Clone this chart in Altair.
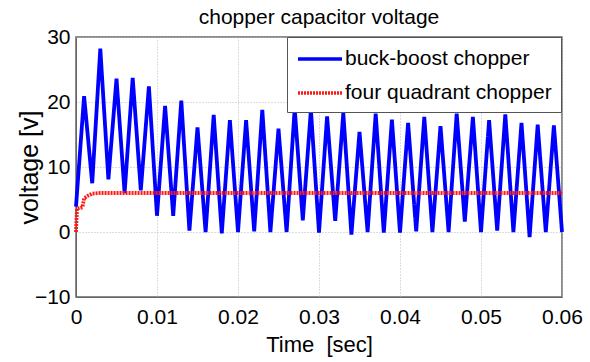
import altair as alt
import pandas as pd

# blue series: buck-boost chopper (samples every 1 ms)
bb_time = [i / 1000 for i in range(61)]
bb_volt = [3.9, 20.9, 7.5, 28.2, 8.1, 23.6, 6.0, 23.7, 6.4, 22.4,
           2.5, 19.4, 2.5, 20.2, 0.2, 16.1, 0.0, 18.0, -0.2, 17.2,
           0.0, 17.2, 0.1, 18.8, 0.0, 15.9, 0.0, 19.0, 1.8, 18.8,
           -0.1, 17.8, 1.7, 18.3, -0.4, 15.4, 0.0, 18.2, -0.1, 17.3,
           -0.1, 16.8, 0.1, 17.7, 0.0, 16.3, 0.0, 18.2, 1.6, 17.7,
           0.0, 17.2, 0.2, 18.1, 0.0, 16.8, -0.8, 16.5, 0.0, 16.4,
           0.0]

# red series: four quadrant chopper
fq_time = [0.0, 0.00012, 0.0008, 0.0010, 0.0015, 0.0020, 0.0030, 0.0600]
fq_volt = [0.0, 3.6, 3.8, 5.2, 5.6, 5.9, 6.0, 6.0]

series_names = ["buck-boost chopper", "four quadrant chopper"]

df = pd.concat([
    pd.DataFrame({"t": bb_time, "v": bb_volt, "s": series_names[0], "o": range(len(bb_time))}),
    pd.DataFrame({"t": fq_time, "v": fq_volt, "s": series_names[1], "o": range(len(fq_time))}),
])

FONT = "Liberation Sans"

chart = alt.Chart(df).mark_line(strokeWidth=3.8, strokeJoin="miter").encode(
    x=alt.X("t:Q", title="Time\u00a0\u00a0[sec]",
            scale=alt.Scale(domain=[0, 0.06], nice=False, zero=False),
            axis=alt.Axis(values=[0, 0.01, 0.02, 0.03, 0.04, 0.05, 0.06], format="g")),
    y=alt.Y("v:Q", title="voltage [v]",
            scale=alt.Scale(domain=[-10, 30], nice=False),
            axis=alt.Axis(values=[-10, 0, 10, 20, 30], titleX=-34, titleY=130,
                          titleAlign="center", titleAngle=-90, titleFontSize=25)),
    color=alt.Color("s:N", sort=series_names,
                    scale=alt.Scale(domain=series_names, range=["#0000ff", "#ff1a1a"]),
                    legend=alt.Legend(title=None, orient="none", legendX=211, legendY=0,
                                      symbolType="M-2,0L2,0", symbolSize=484,
                                      symbolStrokeWidth=3.5, symbolOffset=11,
                                      labelFont=FONT, labelLimit=0,
                                      labelFontSize=21, labelColor="black",
                                      labelOffset=12, rowPadding=11, padding=9,
                                      fillColor="white", strokeColor="#555",
                                      cornerRadius=0)),
    strokeDash=alt.StrokeDash("s:N", sort=series_names,
                              scale=alt.Scale(domain=series_names, range=[[1, 0], [2, 1]]),
                              legend=None),
    order="o:Q",
).properties(
    width=486, height=260,
    title=alt.TitleParams("chopper capacitor voltage", font=FONT, fontSize=21,
                          fontWeight="normal", color="black", offset=-2),
    padding={"left": 76, "top": 37, "right": 28, "bottom": 65},
    autosize=alt.AutoSizeParams(type="none"),
).configure_axis(
    labelFont=FONT, labelFontSize=21, labelColor="black",
    titleFont=FONT, titleFontSize=22, titleFontWeight="normal", titleColor="black",
    grid=True, gridColor="#bbbbbb", gridDash=[1, 2], gridWidth=1,
    domainColor="#666", ticks=False,
).configure_axisX(labelPadding=9, titlePadding=7, labelFlush=False
).configure_axisY(labelPadding=6
).configure_view(stroke="#666", strokeWidth=1.5)

chart.save("out.html", embed_options={"renderer": "svg", "actions": False})
